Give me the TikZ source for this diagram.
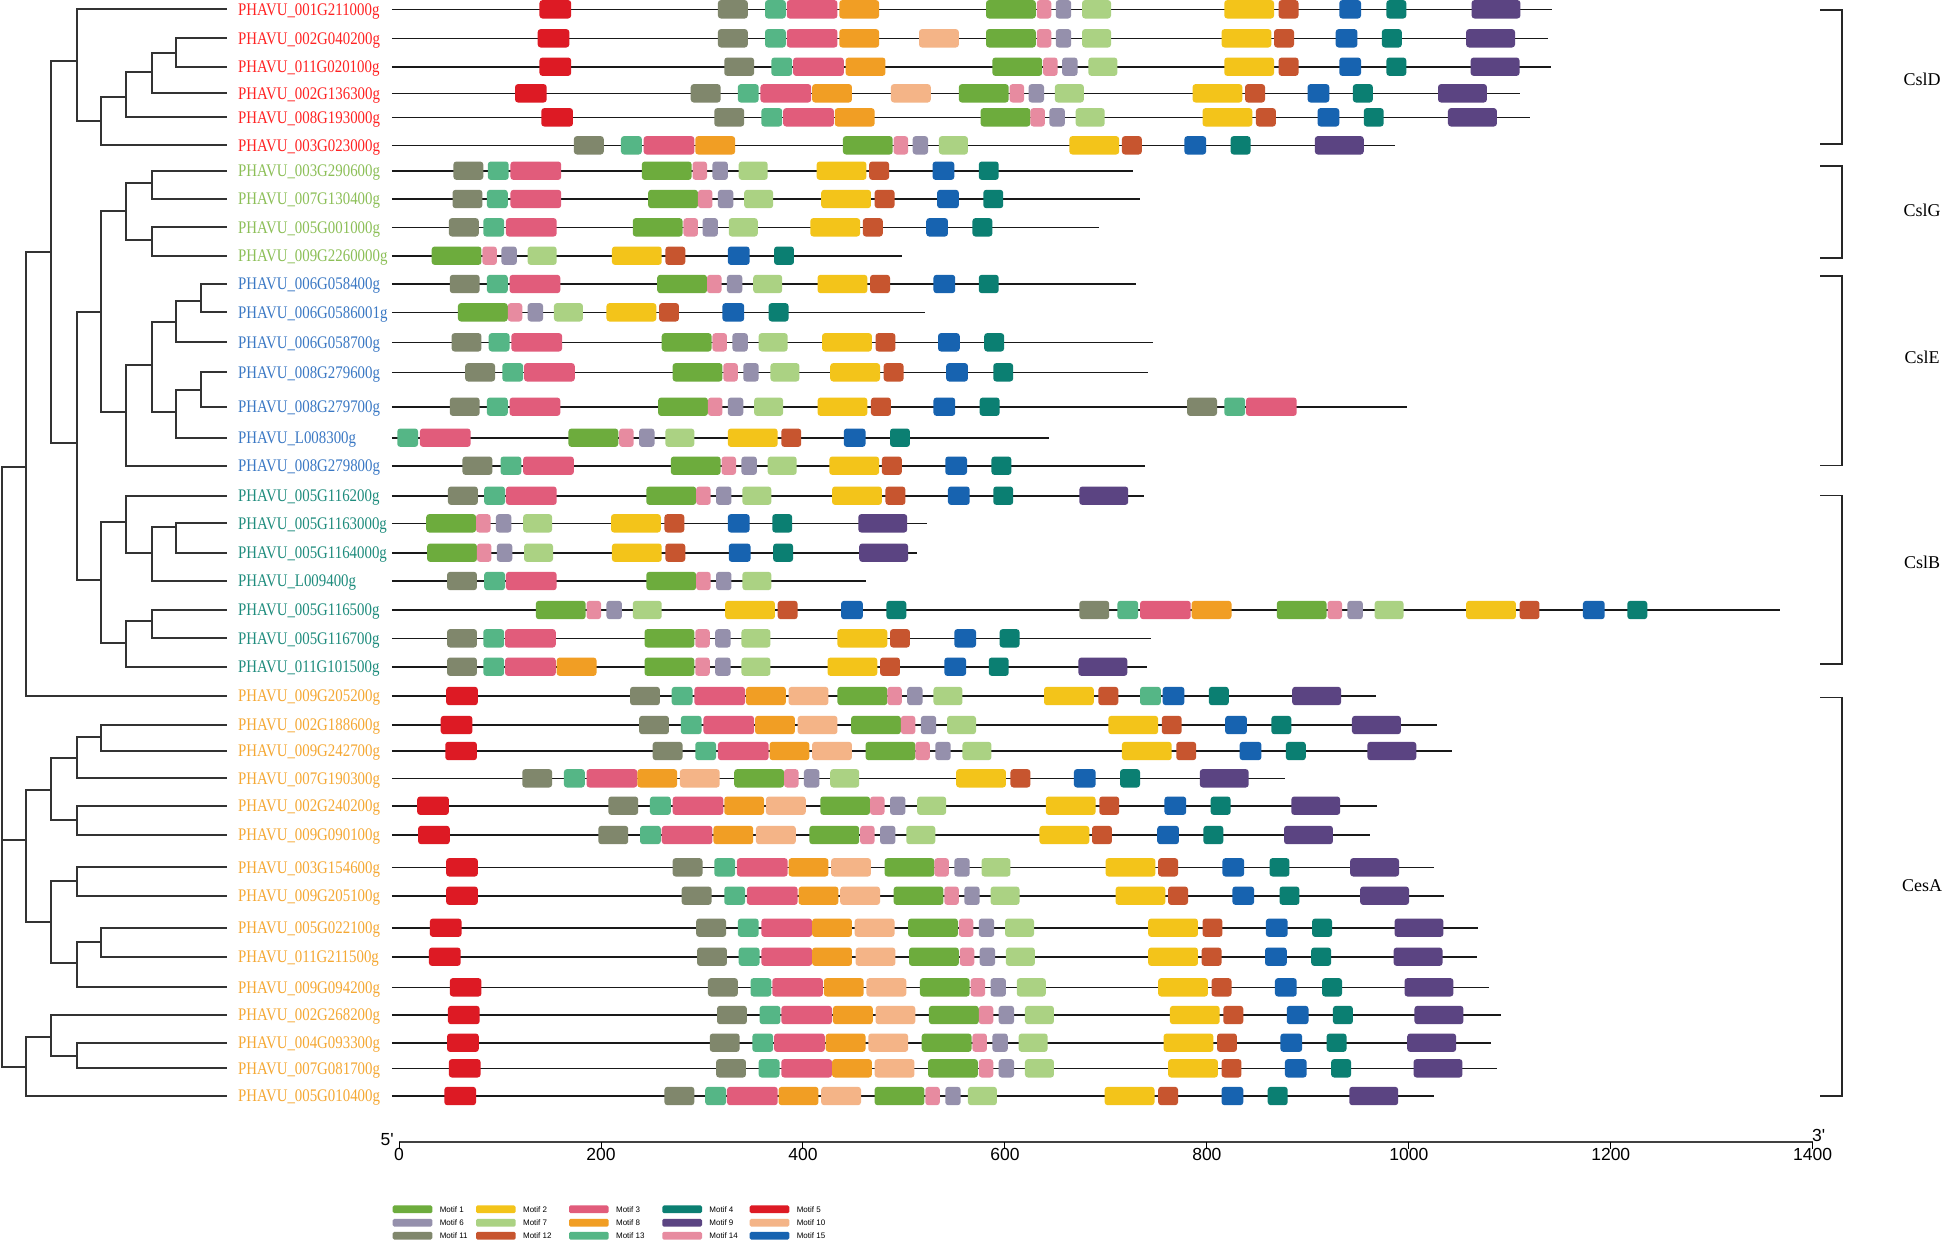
\documentclass[tikz,border=0pt]{standalone}
\usepackage{fontspec}
\setmainfont{Liberation Serif}
\newfontfamily\genefont[FakeStretch=0.84]{Liberation Serif}
\newfontfamily\numfont{Liberation Sans}
\usetikzlibrary{positioning}

% motif colours
\definecolor{mc1}{HTML}{6DAC3D}
\definecolor{mc2}{HTML}{F3C41A}
\definecolor{mc3}{HTML}{E15C7B}
\definecolor{mc4}{HTML}{0B7F72}
\definecolor{mc5}{HTML}{DD1A24}
\definecolor{mc6}{HTML}{9590AC}
\definecolor{mc7}{HTML}{ABD283}
\definecolor{mc8}{HTML}{F19E24}
\definecolor{mc9}{HTML}{5B4482}
\definecolor{mc10}{HTML}{F4B487}
\definecolor{mc11}{HTML}{80876C}
\definecolor{mc12}{HTML}{C7552F}
\definecolor{mc13}{HTML}{55B686}
\definecolor{mc14}{HTML}{E78BA0}
\definecolor{mc15}{HTML}{1763B0}
% clade colours
\definecolor{cladeD}{HTML}{FF2222}
\definecolor{cladeG}{HTML}{8CBF57}
\definecolor{cladeE}{HTML}{3A78C4}
\definecolor{cladeB}{HTML}{1E8C7D}
\definecolor{cladeA}{HTML}{F5A833}

% motif widths (layout units), index = motif number
\def\motifwidth{{0,55,55,56,22,35,17,32,44,54,44,33,22,23,16,24}}

% one gene: y, end of line, motif/start list
\newcommand{\generow}[3]{%
  \draw[geneline] (2,#1) -- (#2,#1);
  \foreach \m/\s in {#3}{%
    \pgfmathsetmacro\w{\motifwidth[\m]}
    \fill[motif, fill=mc\m] (\s,#1-9.2) rectangle ++(\w,18.4);
  }%
}

\begin{document}
\begin{tikzpicture}[
    x=1pt, y=-1pt,
    branch/.style={line width=1.8pt, draw=black!80},
    genelabel/.style={anchor=base west, inner sep=0pt,
        font=\genefont\fontsize{17.7}{20}\selectfont},
    geneline/.style={line width=1.6pt, draw=black!90},
    motif/.style={rounded corners=3pt},
    swatch/.style={rectangle, rounded corners=1.5pt, minimum width=39.7pt,
        minimum height=7.7pt, inner sep=0pt},
    legtext/.style={inner sep=0pt, font=\numfont\fontsize{8}{9}\selectfont},
    bracket/.style={line width=1.5pt, draw=black!85},
    clade/.style={inner sep=0pt, font=\fontsize{18}{20}\selectfont},
    tick/.style={inner sep=0pt, font=\numfont\fontsize{17.5}{19}\selectfont}
]

    \path[use as bounding box, fill=white] (0,0) rectangle (1944,1243);

    % Leaves and gene names
    \foreach \i/\y/\gname/\gcol in {
        1/9.3/PHAVU\_001G211000g/cladeD, 2/38.3/PHAVU\_002G040200g/cladeD,
        3/66.7/PHAVU\_011G020100g/cladeD, 4/93.3/PHAVU\_002G136300g/cladeD,
        5/117.3/PHAVU\_008G193000g/cladeD, 6/145.3/PHAVU\_003G023000g/cladeD,
        7/170.7/PHAVU\_003G290600g/cladeG, 8/199/PHAVU\_007G130400g/cladeG,
        9/227.3/PHAVU\_005G001000g/cladeG, 10/255.7/PHAVU\_009G2260000g/cladeG,
        11/284/PHAVU\_006G058400g/cladeE, 12/312.3/PHAVU\_006G0586001g/cladeE,
        13/342.3/PHAVU\_006G058700g/cladeE, 14/372.3/PHAVU\_008G279600g/cladeE,
        15/406.7/PHAVU\_008G279700g/cladeE, 16/437.7/PHAVU\_L008300g/cladeE,
        17/465.7/PHAVU\_008G279800g/cladeE, 18/495.7/PHAVU\_005G116200g/cladeB,
        19/523.3/PHAVU\_005G1163000g/cladeB, 20/552.7/PHAVU\_005G1164000g/cladeB,
        21/581/PHAVU\_L009400g/cladeB, 22/610/PHAVU\_005G116500g/cladeB,
        23/638.3/PHAVU\_005G116700g/cladeB, 24/666.7/PHAVU\_011G101500g/cladeB,
        25/696/PHAVU\_009G205200g/cladeA, 26/725/PHAVU\_002G188600g/cladeA,
        27/751/PHAVU\_009G242700g/cladeA, 28/778.3/PHAVU\_007G190300g/cladeA,
        29/805.7/PHAVU\_002G240200g/cladeA, 30/835/PHAVU\_009G090100g/cladeA,
        31/867.3/PHAVU\_003G154600g/cladeA, 32/895.7/PHAVU\_009G205100g/cladeA,
        33/927.7/PHAVU\_005G022100g/cladeA, 34/956.7/PHAVU\_011G211500g/cladeA,
        35/987.3/PHAVU\_009G094200g/cladeA, 36/1015/PHAVU\_002G268200g/cladeA,
        37/1042.7/PHAVU\_004G093300g/cladeA, 38/1068.3/PHAVU\_007G081700g/cladeA,
        39/1096/PHAVU\_005G010400g/cladeA}{
        \coordinate (l\i) at (227,\y);
        \node[genelabel, text=\gcol] (g\i) at (238,\y+5.85) {\gname};
    }

    % Tree nodes
    \coordinate (root)  at (2,467);
    \coordinate (top)   at (26,466.7);
    \coordinate (dgeb)  at (51,252.3);
    \coordinate (dD)    at (77,61);
    \coordinate (d6)    at (101,120.7);
    \coordinate (d2345) at (126,96.7);
    \coordinate (d234)  at (152,72.3);
    \coordinate (d23)   at (176,52.7);
    \coordinate (geb)   at (77,443.3);
    \coordinate (ge)    at (101,312.3);
    \coordinate (gG)    at (126,211);
    \coordinate (g78)   at (152,183.3);
    \coordinate (g910)  at (152,240);
    \coordinate (eE)    at (126,412.3);
    \coordinate (e4)    at (152,365);
    \coordinate (e13)   at (176,322.3);
    \coordinate (e1112) at (201,301);
    \coordinate (e16)   at (176,412.3);
    \coordinate (e1415) at (201,390);
    \coordinate (bB)    at (101,580);
    \coordinate (b18)   at (126,522.3);
    \coordinate (b21)   at (152,553.3);
    \coordinate (b1920) at (176,526.7);
    \coordinate (b24)   at (126,643.3);
    \coordinate (b2223) at (152,621);
    \coordinate (aMain) at (26,840);
    \coordinate (a4)    at (51,790);
    \coordinate (a28)   at (77,758.3);
    \coordinate (a2627) at (101,736.7);
    \coordinate (a2930) at (77,820);
    \coordinate (a3)    at (51,921.7);
    \coordinate (a3132) at (77,881);
    \coordinate (a35)   at (77,963.3);
    \coordinate (a3334) at (101,941.7);
    \coordinate (aLast) at (26,1066.7);
    \coordinate (a36)   at (51,1037.3);
    \coordinate (a3738) at (77,1056);

    % Branches
    \foreach \p/\c in {root/top, root/aMain, root/aLast, top/dgeb, top/l25,
        dgeb/dD, dgeb/geb, dD/l1, dD/d6, d6/d2345, d6/l6, d2345/d234, d2345/l5,
        d234/d23, d234/l4, d23/l2, d23/l3,
        geb/ge, geb/bB, ge/gG, ge/eE,
        gG/g78, gG/g910, g78/l7, g78/l8, g910/l9, g910/l10,
        eE/e4, eE/l17, e4/e13, e4/e16, e13/e1112, e13/l13, e1112/l11, e1112/l12,
        e16/e1415, e16/l16, e1415/l14, e1415/l15,
        bB/b18, bB/b24, b18/l18, b18/b21, b21/b1920, b21/l21, b1920/l19, b1920/l20,
        b24/b2223, b24/l24, b2223/l22, b2223/l23,
        aMain/a4, aMain/a3, a4/a28, a4/a2930, a28/a2627, a28/l28, a2627/l26, a2627/l27,
        a2930/l29, a2930/l30, a3/a3132, a3/a35, a3132/l31, a3132/l32,
        a35/a3334, a35/l35, a3334/l33, a3334/l34,
        aLast/a36, aLast/l39, a36/l36, a36/a3738, a3738/l37, a3738/l38}
        \draw[branch] (\p) |- (\c);

    % Motif structures
    \begin{scope}[shift={(390,0)}, x=0.9058pt]
        \generow{9.3}{1283}{5/165, 11/362, 13/414, 3/438, 8/496, 1/658, 14/714, 6/735, 7/764, 2/921, 12/981, 15/1048, 4/1100, 9/1194}
        \generow{38.3}{1278}{5/163, 11/362, 13/414, 3/438, 8/496, 10/584, 1/658, 14/714, 6/735, 7/764, 2/918, 12/976, 15/1044, 4/1095, 9/1188}
        \generow{66.7}{1282}{5/165, 11/369, 13/421, 3/445, 8/503, 1/665, 14/721, 6/742, 7/771, 2/921, 12/981, 15/1048, 4/1100, 9/1193}
        \generow{93.3}{1248}{5/138, 11/332, 13/384, 3/409, 8/466, 10/553, 1/628, 14/684, 6/705, 7/734, 2/886, 12/944, 15/1013, 4/1063, 9/1157}
        \generow{117.3}{1259}{5/167, 11/358, 13/410, 3/434, 8/491, 1/652, 14/707, 6/728, 7/757, 2/897, 12/956, 15/1024, 4/1075, 9/1168}
        \generow{145.3}{1109}{11/203, 13/255, 3/280, 8/337, 1/500, 14/556, 6/577, 7/606, 2/750, 12/808, 15/877, 4/928, 9/1021}
        \generow{170.7}{820}{11/70, 13/108, 3/133, 1/278, 14/334, 6/356, 7/385, 2/471, 12/529, 15/599, 4/650}
        \generow{199}{828}{11/69, 13/107, 3/133, 1/285, 14/340, 6/362, 7/391, 2/476, 12/535, 15/604, 4/655}
        \generow{227.3}{783}{11/65, 13/103, 3/128, 1/268, 14/324, 6/345, 7/374, 2/464, 12/522, 15/592, 4/643}
        \generow{255.7}{565}{1/46, 14/102, 6/123, 7/152, 2/245, 12/304, 15/373, 4/424}
        \generow{284}{824}{11/66, 13/107, 3/132, 1/295, 14/350, 6/372, 7/401, 2/472, 12/530, 15/600, 4/650}
        \generow{312.3}{591}{1/75, 14/130, 6/152, 7/181, 2/239, 12/297, 15/367, 4/418}
        \generow{342.3}{842}{11/68, 13/109, 3/134, 1/300, 14/356, 6/378, 7/407, 2/477, 12/536, 15/605, 4/656}
        \generow{372.3}{837}{11/83, 13/124, 3/148, 1/312, 14/368, 6/390, 7/420, 2/486, 12/545, 15/614, 4/666}
        \generow{406.7}{1123}{11/66, 13/107, 3/132, 1/296, 14/351, 6/373, 7/402, 2/472, 12/531, 15/600, 4/651, 11/880, 13/921, 3/945}
        \generow{437.7}{727}{13/8, 3/33, 1/197, 14/253, 6/275, 7/304, 2/373, 12/432, 15/501, 4/552}
        \generow{465.7}{834}{11/80, 13/122, 3/147, 1/310, 14/366, 6/388, 7/417, 2/485, 12/543, 15/613, 4/664}
        \generow{495.7}{832}{11/64, 13/104, 3/128, 1/283, 14/338, 6/360, 7/389, 2/488, 12/547, 15/616, 4/666, 9/761}
        \generow{523.3}{593}{1/40, 14/95, 6/117, 7/147, 2/244, 12/303, 15/373, 4/422, 9/517}
        \generow{552.7}{582}{1/41, 14/96, 6/118, 7/148, 2/245, 12/304, 15/374, 4/423, 9/518}
        \generow{581}{525}{11/63, 13/104, 3/128, 1/283, 14/338, 6/360, 7/389}
        \generow{610}{1535}{1/161, 14/217, 6/239, 7/268, 2/370, 12/428, 15/498, 4/548, 11/761, 13/803, 3/828, 8/885, 1/979, 14/1035, 6/1057, 7/1087, 2/1188, 12/1247, 15/1317, 4/1366}
        \generow{638.3}{840}{11/63, 13/103, 3/127, 1/281, 14/337, 6/359, 7/388, 2/494, 12/552, 15/623, 4/673}
        \generow{666.7}{836}{11/63, 13/103, 3/127, 8/184, 1/281, 14/337, 6/359, 7/388, 2/483, 12/541, 15/612, 4/661, 9/760}
        \generow{696}{1089}{5/62, 11/265, 13/311, 3/336, 8/393, 10/440, 1/494, 14/549, 6/571, 7/600, 2/722, 12/782, 13/828, 15/853, 4/904, 9/996}
        \generow{725}{1156}{5/56, 11/275, 13/321, 3/346, 8/403, 10/450, 1/509, 14/564, 6/586, 7/615, 2/793, 12/852, 15/922, 4/973, 9/1062}
        \generow{751}{1172}{5/61, 11/290, 13/337, 3/362, 8/419, 10/466, 1/525, 14/580, 6/602, 7/632, 2/808, 12/868, 15/938, 4/989, 9/1079}
        \generow{778.3}{988}{11/146, 13/192, 3/217, 8/273, 10/320, 1/380, 14/435, 6/457, 7/486, 2/625, 12/685, 15/755, 4/806, 9/894}
        \generow{805.7}{1090}{5/30, 11/241, 13/287, 3/312, 8/369, 10/415, 1/475, 14/530, 6/552, 7/582, 2/724, 12/783, 15/855, 4/906, 9/995}
        \generow{835}{1082}{5/31, 11/230, 13/276, 3/300, 8/357, 10/404, 1/463, 14/519, 6/541, 7/570, 2/717, 12/775, 15/847, 4/898, 9/987}
        \generow{867.3}{1153}{5/62, 11/312, 13/358, 3/383, 8/440, 10/487, 1/546, 14/601, 6/623, 7/653, 2/790, 12/848, 15/919, 4/971, 9/1060}
        \generow{895.7}{1164}{5/62, 11/322, 13/369, 3/394, 8/451, 10/497, 1/556, 14/612, 6/634, 7/663, 2/801, 12/859, 15/930, 4/982, 9/1071}
        \generow{927.7}{1201}{5/44, 11/338, 13/384, 3/410, 8/466, 10/513, 1/572, 14/628, 6/650, 7/679, 2/837, 12/897, 15/967, 4/1018, 9/1109}
        \generow{956.7}{1200}{5/43, 11/339, 13/385, 3/410, 8/466, 10/514, 1/573, 14/629, 6/651, 7/680, 2/837, 12/896, 15/966, 4/1017, 9/1108}
        \generow{987.3}{1213}{5/66, 11/351, 13/398, 3/422, 8/479, 10/526, 1/585, 14/641, 6/663, 7/692, 2/848, 12/907, 15/977, 4/1029, 9/1120}
        \generow{1015}{1226}{5/64, 11/361, 13/408, 3/432, 8/489, 10/536, 1/595, 14/650, 6/672, 7/701, 2/861, 12/920, 15/990, 4/1041, 9/1131}
        \generow{1042.7}{1216}{5/63, 11/353, 13/400, 3/424, 8/481, 10/528, 1/587, 14/643, 6/665, 7/694, 2/854, 12/913, 15/983, 4/1034, 9/1123}
        \generow{1068.3}{1222}{5/65, 11/360, 13/407, 3/432, 8/488, 10/535, 1/594, 14/650, 6/672, 7/701, 2/859, 12/918, 15/988, 4/1039, 9/1130}
        \generow{1096}{1153}{5/60, 11/303, 13/348, 3/372, 8/429, 10/476, 1/535, 14/591, 6/613, 7/638, 2/789, 12/848, 15/918, 4/969, 9/1059}
    \end{scope}

    % Subfamily brackets
    \draw[bracket] (1820,10) -| (1842,144) -- (1820,144);
    \draw[bracket] (1820,166) -| (1842,258) -- (1820,258);
    \draw[bracket] (1820,276) -| (1842,465.5) -- (1820,465.5);
    \draw[bracket] (1820,495.3) -| (1842,664) -- (1820,664);
    \draw[bracket] (1820,697.7) -| (1842,1096) -- (1820,1096);
    \node[clade] (cslD) at (1922,79)  {CslD};
    \node[clade] (cslG) at (1922,210) {CslG};
    \node[clade] (cslE) at (1922,357) {CslE};
    \node[clade] (cslB) at (1922,562) {CslB};
    \node[clade] (cesA) at (1922,886) {CesA};

    % Scale bar
    \draw[line width=2pt, draw=black!75] (399.1,1142) -- (1812.5,1142);
    \foreach \t in {0,200,...,1400}{
        \draw[line width=1pt] (399.1+\t*1.0097,1142) -- ++(0,6.5);
        \node[tick, anchor=north] (t\t) at (399.1+\t*1.0097,1148.5) {\t};
    }
    \node[tick, anchor=base east] (five) at (394,1145) {5'};
    \node[tick, anchor=base west] (three) at (1812,1141.7) {3'};

    % Legend
    \foreach \c/\lx in {0/392.7, 1/476, 2/569, 3/662.3, 4/749.7}
      \foreach \r/\ly in {0/1209.3, 1/1222.7, 2/1235.7}{
        \pgfmathtruncatemacro\m{\r*5+\c+1}
        \node[swatch, fill=mc\m] (sw\m) at (\lx+19.85,\ly) {};
        \node[legtext, right=7pt of sw\m] (lt\m) {Motif \m};
      }

\end{tikzpicture}
\end{document}
